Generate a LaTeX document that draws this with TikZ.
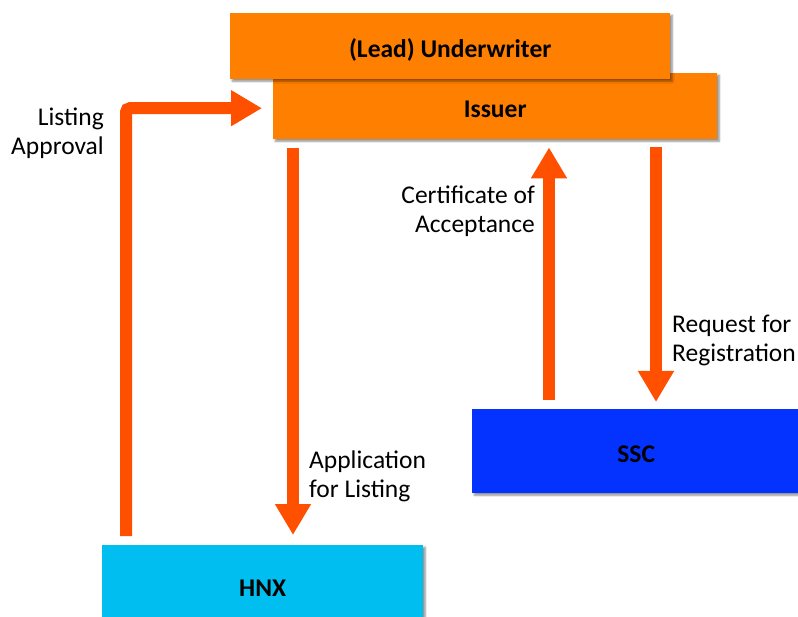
\documentclass[tikz,border=0pt]{standalone}
\usepackage{fontspec}
\setmainfont{Carlito}
\usetikzlibrary{arrows.meta,shadows.blur}
\definecolor{boxorange}{HTML}{FF7F00}
\definecolor{arrowred}{HTML}{FF5000}
\definecolor{hnxblue}{HTML}{00BFF0}
\definecolor{sscblue}{HTML}{0433FF}
\tikzset{
  box/.style={anchor=north west, inner sep=0pt, text height=22pt, text depth=0pt,
    font=\fontsize{25.5}{29}\selectfont\bfseries,
    blur shadow={shadow xshift=2pt, shadow yshift=-2pt, shadow blur radius=2pt, shadow blur steps=6, shadow opacity=45}},
  flow/.style={draw=arrowred, line width=12pt, rounded corners=4pt,
    -{Triangle[length=31pt, width=34pt, fill=arrowred]}},
  lab/.style={font=\fontsize{25.5}{29}\selectfont, inner sep=0pt, align=left},
}
\begin{document}
\begin{tikzpicture}[x=1pt,y=-1pt]
\useasboundingbox (0,0) rectangle (798,617);
\node[box, fill=boxorange, minimum width=444pt, minimum height=66pt] (issuer) at (273,73) {Issuer};
\node[box, fill=boxorange, minimum width=440pt, minimum height=66pt] (uw) at (230,13) {(Lead) Underwriter};
\node[box, fill=hnxblue, minimum width=321pt, minimum height=80pt] (hnx) at (102,545) {HNX};
\node[box, fill=sscblue, minimum width=328pt, minimum height=84pt] (ssc) at (472,409) {SSC};

% Listing approval
\draw[flow] ([xshift=24pt,yshift=9pt]hnx.north west) |- ([xshift=-11pt,yshift=-2pt]issuer.west);
% Application for listing
\draw[flow] ([xshift=20pt,yshift=-9pt]issuer.south west) -- ([xshift=191pt,yshift=10pt]hnx.north west);
% Certificate of acceptance
\draw[flow] ([xshift=77pt,yshift=9pt]ssc.north west) -- ([xshift=276pt,yshift=-8pt]issuer.south west);
% Request for registration
\draw[flow] ([xshift=383pt,yshift=-8pt]issuer.south west) -- ([xshift=184pt,yshift=7pt]ssc.north west);

\node[lab, anchor=north east, align=right] (la) at (104,107.5) {Listing\\Approval};
\node[lab, anchor=north east, align=right] (ca) at (535,185.5) {Certificate of\\Acceptance};
\node[lab, anchor=north west] (rr) at (672,315) {Request for\\Registration};
\node[lab, anchor=north west] (al) at (309,450.5) {Application\\for Listing};
\end{tikzpicture}
\end{document}
